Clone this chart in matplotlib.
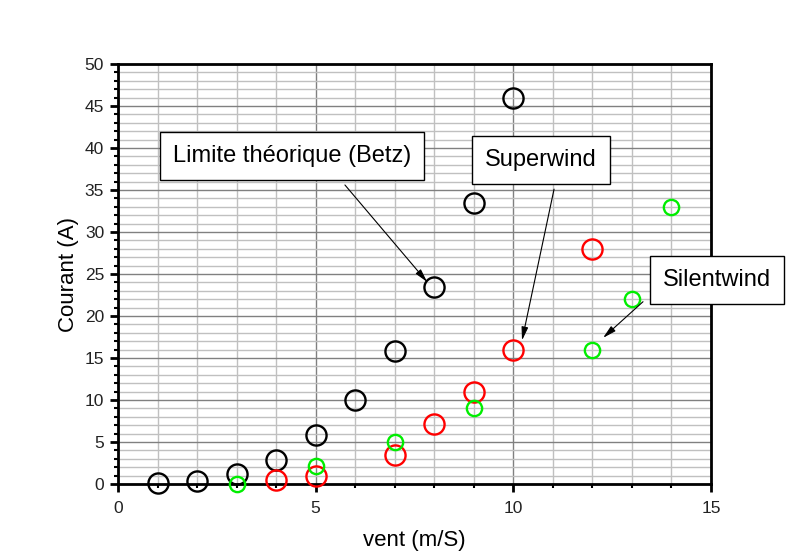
import matplotlib
matplotlib.use("Agg")
import matplotlib.pyplot as plt
from matplotlib.ticker import MultipleLocator

plt.rcParams['font.family'] = ['Liberation Sans', 'DejaVu Sans']

betz_x = [1, 2, 3, 4, 5, 6, 7, 8, 9, 10]
betz_y = [0.1, 0.4, 1.2, 2.9, 5.8, 10.0, 15.8, 23.5, 33.5, 46.0]
super_x = [4, 5, 7, 8, 9, 10, 12]
super_y = [0.5, 1.0, 3.5, 7.1, 11.0, 16.0, 28.0]
silent_x = [3, 5, 7, 9, 12, 13, 14]
silent_y = [0.0, 2.1, 5.0, 9.0, 16.0, 22.0, 33.0]

fig = plt.figure(figsize=(7.97, 5.57), dpi=100)
ax = fig.add_axes([118/797, 1-484/557, (711-118)/797, (484-64)/557])

ax.set_xlim(0, 15)
ax.set_ylim(0, 50)
ax.xaxis.set_major_locator(MultipleLocator(5))
ax.xaxis.set_minor_locator(MultipleLocator(1))
ax.yaxis.set_major_locator(MultipleLocator(5))
ax.yaxis.set_minor_locator(MultipleLocator(1))
ax.grid(which='minor', color='#c0c0c0', lw=1)
ax.grid(which='major', color='#808080', lw=1)
ax.set_axisbelow(True)
for s in ax.spines.values():
    s.set_linewidth(2)
ax.tick_params(which='major', direction='out', length=6, width=2, labelsize=12.5, labelcolor='#222222')
ax.tick_params(which='minor', direction='out', length=3, width=1.5)
ax.tick_params(axis='x', which='major', pad=6.5)
ax.tick_params(axis='y', which='major', pad=4)

kw = dict(ls='none', marker='o', mfc='none', clip_on=False, zorder=5)
ax.plot(betz_x, betz_y, mec='black', ms=14.5, mew=1.7, **kw)
ax.plot(super_x, super_y, mec='#ff0000', ms=14.5, mew=1.7, **kw)
ax.plot(silent_x, silent_y, mec='#00ee00', ms=11, mew=1.7, **kw)

ax.set_xlabel('vent (m/S)', fontsize=16, labelpad=10)
ax.set_ylabel('Courant (A)', fontsize=16, labelpad=4)

box = dict(boxstyle='square,pad=0.55', fc='white', ec='black', lw=1)
ax.text(4.40, 39.0, 'Limite théorique (Betz)', fontsize=17, ha='center', va='center', bbox=box, zorder=6)
ax.text(10.70, 38.6, 'Superwind', fontsize=17, ha='center', va='center', bbox=box, zorder=6)
ax.text(15.15, 24.3, 'Silentwind', fontsize=17, ha='center', va='center', bbox=box, zorder=6, clip_on=False)

ap = dict(arrowstyle='-|>,head_length=0.8,head_width=0.2', color='black', lw=0.8, shrinkA=0, shrinkB=0)
ax.annotate('', xy=(7.82, 24.05), xytext=(5.74, 35.6), arrowprops=ap, zorder=6)
ax.annotate('', xy=(10.22, 17.1), xytext=(11.03, 35.1), arrowprops=ap, zorder=6)
ax.annotate('', xy=(12.27, 17.4), xytext=(13.28, 21.7), arrowprops=ap, zorder=6)

fig.savefig('out.png', dpi=100)
